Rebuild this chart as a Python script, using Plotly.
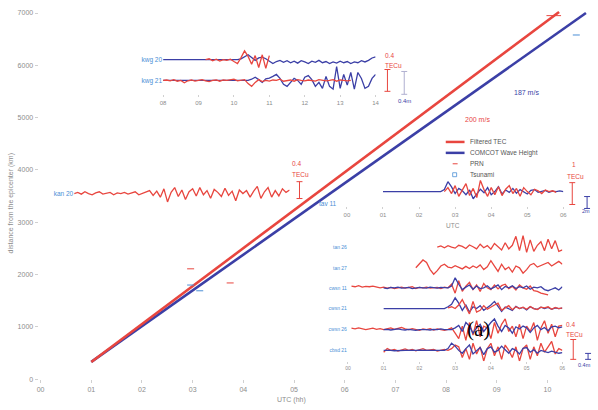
import plotly.graph_objects as go

W, H = 598, 410
RED = "#e8463f"
BLUE = "#3b3fa6"
LBLUE = "#4b8fd6"
GRAY = "#8c8c8c"
DT = 0.1

# ---------------- main panel data ----------------
HOUR_TICKS = [0, 1, 2, 3, 4, 5, 6, 7, 8, 9, 10]
HOUR_LABELS = ["00", "01", "02", "03", "04", "05", "06", "07", "08", "09", "10"]
KM_TICKS = [0, 1000, 2000, 3000, 4000, 5000, 6000, 7000]
KM_LABELS = ["0", "1000", "2000", "3000", "4000", "5000", "6000", "7000"]
TEC_FRONT_HOURS = [1.0, 10.23]
TEC_FRONT_KM = [330, 7020]
WAVE_FRONT_HOURS = [1.0, 10.76]
WAVE_FRONT_KM = [330, 7000]
PRN_MARK_HOURS = [2.96, 3.74, 10.05, 10.2]
PRN_MARK_KM = [2110, 1840, 6950, 6950]
TSU_MARK_HOURS = [2.96, 3.14, 10.57]
TSU_MARK_KM = [1800, 1690, 6580]

# ---------------- inset A : kwg ----------------
KWG_TICKS = [8, 9, 10, 11, 12, 13, 14]
KWG_LABELS = ["08", "09", "10", "11", "12", "13", "14"]
KWG_NAMES = ["kwg 20", "kwg 21"]
KWG_OFFSETS = [0.525, 0.0]
KWG20_WAVE_T0 = 8.0
KWG20_WAVE = [0.0, 0.0, 0.0, 0.0, 0.0, 0.0, 0.0, 0.0, 0.0, 0.0, 0.0, 0.0, 0.0, 0.0, 0.0, 0.0, 0.0, 0.0, 0.0, 0.0, 0.0,
              0.0, 0.02, 0.08, 0.12, 0.05, -0.02, 0.04, 0.06, 0.02, -0.05, -0.1, -0.05, -0.02, -0.07, -0.03, -0.08,
              -0.04, -0.09, -0.03, -0.06, -0.1, -0.04, -0.07, -0.02, -0.08, -0.05, -0.1, -0.06, -0.09, -0.04, -0.08,
              -0.05, -0.1, -0.06, -0.08, -0.03, -0.06, -0.02, 0.04, 0.07]
KWG20_TEC_T0 = 9.2
KWG20_TEC = [0.0, 0.02, -0.03, 0.01, -0.04, 0.0, -0.02, 0.01, -0.05, -0.1, 0.05, 0.22, 0.08, -0.12, 0.1, -0.2,
             0.12, -0.22, 0.1]
KWG21_TEC_T0 = 8.0
KWG21_TEC = [0.0, 0.01, -0.01, 0.02, -0.02, 0.0, -0.06, -0.01, 0.01, -0.02, 0.0, 0.02, -0.01, -0.03, 0.0, 0.01,
             -0.02, 0.01, 0.0, 0.02, 0.03, -0.01, 0.0, 0.02, -0.08, -0.15, -0.05, 0.02, -0.03, 0.0, -0.02, 0.01,
             0.0, 0.03, -0.02, 0.0, 0.01, -0.02, 0.02, 0.0, -0.01, 0.01, 0.0, -0.02, 0.02, 0.01, -0.01, 0.0, 0.02,
             -0.02, 0.01, 0.0, -0.01, 0.0]
KWG21_WAVE_T0 = 8.0
KWG21_WAVE = [0.0, 0.0, 0.0, 0.0, 0.0, 0.0, 0.0, 0.0, 0.0, 0.0, 0.0, 0.0, 0.0, 0.0, 0.0, 0.0, 0.0, 0.0, 0.0, 0.0,
              0.0, 0.0, 0.0, 0.0, 0.0,
              0.03, 0.08, 0.02, -0.05, 0.04, 0.06, 0.1, 0.15, 0.05, -0.1, -0.15, -0.05, 0.05, 0.0, -0.1, 0.08, 0.12,
              0.02, -0.15, -0.05, -0.2, 0.1, -0.15, -0.22, 0.35, -0.2, 0.15, -0.12, 0.2, -0.22, 0.2, 0.05, -0.2,
              -0.15, 0.05, 0.15]

# ---------------- inset B : kan ----------------
KAN_NAME = "kan 20"
KAN_TEC_T0 = 7.0
KAN_TEC = [0.0, 0.02, -0.01, 0.03, 0.0, -0.02, 0.01, 0.03, -0.01, 0.0, 0.02, -0.02, 0.01, 0.0, 0.02, -0.01, 0.01,
           0.03, -0.02, 0.0, 0.02, 0.05, -0.03, 0.04, -0.06, 0.08, -0.14, 0.02, 0.1, -0.05, 0.06, -0.1, 0.03, 0.08,
           -0.04, 0.1, -0.02, 0.05, -0.08, 0.07, 0.02, -0.05, 0.09, -0.03, 0.04, -0.12, 0.06, 0.0, 0.05, -0.06,
           0.04, 0.12, -0.08, 0.03, 0.1, -0.06, 0.05, -0.04, 0.08, 0.02, 0.06]

# ---------------- inset C : tav ----------------
UTC_TICKS = [0, 1, 2, 3, 4, 5, 6]
UTC_LABELS = ["00", "01", "02", "03", "04", "05", "06"]
TAV_NAME = "tav 11"
TAV_WAVE_T0 = 1.0
TAV_WAVE = [0.0, 0.0, 0.0, 0.0, 0.0, 0.0, 0.0, 0.0, 0.0, 0.0, 0.0, 0.0, 0.0, 0.0, 0.0, 0.0, 0.0,
            0.05, 0.25, 0.12, -0.05, 0.08, 0.02, -0.08, 0.04, -0.18, -0.05, 0.06, -0.03, 0.1, -0.08, 0.0, 0.12,
            -0.06, 0.04, -0.02, 0.08, -0.04, 0.05, 0.0, -0.06, 0.03, 0.05, -0.02, 0.0, 0.03, -0.02, 0.01, 0.0,
            0.02, 0.0]
TAV_TEC_T0 = 2.7
TAV_TEC = [0.0, 0.1, -0.05, 0.15, -0.12, 0.05, 0.2, -0.1, 0.08, -0.15, 0.28, 0.05, -0.12, 0.1, -0.08, 0.12, -0.1,
           0.06, 0.15, -0.05, 0.08, -0.12, 0.1, 0.0, -0.08, 0.06, 0.02, -0.05, 0.04, 0.0, 0.02, -0.02]

# ---------------- inset D : six stations ----------------
ROW_NAMES = ["tan 26", "tan 27", "cwsn 11", "cwsn 21", "cwsn 26", "cbsd 21"]
ROW_OFFSETS = [2.89, 2.31, 1.75, 1.17, 0.58, 0.0]
D1_TEC_T0 = 2.5
D1_TEC = [0.0, 0.03, -0.02, 0.04, 0.0, -0.03, 0.05, 0.02, -0.04, 0.06, 0.01, -0.05, 0.08, -0.02, 0.04, -0.06, 0.1,
          0.0, -0.08, 0.12, -0.05, 0.05, 0.3, -0.1, 0.32, -0.15, 0.2, -0.12, 0.05, 0.15, -0.1, 0.22, -0.05, 0.18,
          -0.12, -0.08]
D2_TEC_T0 = 1.9
D2_TEC = [0.0, 0.1, 0.22, 0.15, -0.05, -0.18, -0.08, 0.05, 0.1, 0.02, 0.0, 0.06, 0.02, -0.03, 0.04, -0.02, 0.05,
          0.0, 0.08, -0.05, 0.03, 0.2, 0.05, -0.1, 0.1, -0.05, 0.02, -0.12, 0.05, 0.0, -0.15, -0.05, 0.08, 0.12,
          0.02, 0.06, 0.1, 0.15, 0.05, 0.12, 0.18, 0.1]
D3_TEC_T0 = 0.1
D3_TEC = [0.05, 0.03, 0.06, 0.02, 0.04, 0.03, 0.05, 0.02, 0.0, 0.02, -0.01, 0.01, -0.02, 0.0, 0.02, -0.01, 0.0,
          0.03, -0.02, 0.01, 0.0, 0.02, -0.01, 0.0, 0.01, -0.02, 0.02, 0.0, 0.1, -0.15, 0.2, -0.1, 0.05, 0.15, -0.05,
          0.08, -0.1, 0.12, 0.0, -0.05, 0.08, -0.03, 0.06, 0.1, -0.02, 0.04, -0.06, 0.08, 0.0, -0.04, 0.05, -0.08,
          -0.1, -0.15, -0.18, -0.2]
D3_WAVE_T0 = 1.0
D3_WAVE = [0.0, -0.02, 0.01, 0.0, 0.02, -0.01, 0.0, 0.01, -0.02, 0.0, 0.01, 0.0, -0.01, 0.02, 0.0, -0.01, 0.01, 0.0,
           0.0, 0.05, 0.28, 0.1, -0.05, 0.02, 0.08, -0.04, 0.05, -0.02, 0.0, 0.06, -0.03, 0.02, 0.08, -0.05, 0.04,
           0.0, 0.06, -0.02, 0.03, 0.0, 0.05, -0.04, 0.02, 0.0, 0.03, -0.05, -0.08, -0.04, 0.0, -0.06, 0.03]
D4_WAVE_T0 = 1.0
D4_WAVE = [0.0, 0.0, 0.0, 0.0, 0.0, 0.0, 0.0, 0.0, 0.0, 0.0, 0.0, 0.0, 0.0, 0.0, 0.0, 0.0, 0.0,
           0.0, 0.05, 0.12, 0.3, 0.15, -0.05, 0.1, -0.1, 0.05, 0.0, 0.08, -0.05, 0.02, 0.1, 0.2, 0.05, -0.08, 0.04,
           0.0, -0.05, 0.06, 0.0, 0.03, -0.04, 0.05, 0.0, -0.02, 0.04, 0.0, 0.03, -0.02, 0.02, 0.0, 0.01]
D4_TEC_T0 = 2.8
D4_TEC = [0.02, 0.05, 0.0, 0.1, 0.25, 0.05, -0.15, 0.2, -0.1, -0.05, 0.08, -0.02, 0.05, 0.1, 0.15, -0.05, 0.02,
          0.08, -0.03, 0.05, 0.0, 0.04, -0.02, 0.06, 0.0, -0.03, 0.04, 0.02, 0.05, -0.02, 0.03, 0.0, 0.02]
D5_TEC_T0 = 0.1
D5_TEC = [0.04, 0.02, 0.05, 0.03, 0.0, 0.02, 0.04, 0.01, 0.03, 0.0, 0.02, 0.05, 0.01, 0.03, 0.06, 0.02, 0.0, 0.03,
          0.01, -0.02, 0.02, 0.0, 0.03, -0.01, 0.02, 0.0, -0.02, 0.01, 0.05, -0.1, -0.25, 0.1, -0.3, 0.2, -0.15,
          0.25, -0.2, 0.1, 0.05, -0.25, 0.2, -0.1, 0.15, 0.3, -0.05, 0.1, -0.2, 0.15, -0.25, 0.1, -0.05, 0.2, -0.3,
          0.05, 0.25, -0.1, 0.15, -0.2, 0.1, 0.12]
D5_WAVE_T0 = 1.0
D5_WAVE = [0.0, 0.01, -0.01, 0.0, 0.02, 0.0, -0.01, 0.01, 0.0, -0.02, 0.0, 0.01, 0.0, -0.01, 0.01, 0.0, 0.02, 0.0,
           -0.01, 0.0, 0.05, 0.12, -0.05, 0.2, 0.1, -0.1, 0.05, 0.15, -0.05, 0.08, 0.2, 0.3, 0.1, -0.05, 0.12, 0.05,
           -0.1, 0.08, 0.02, 0.1, 0.05, -0.08, 0.05, 0.12, 0.0, 0.06, -0.03, 0.08, 0.1, 0.05, 0.08]
D6_TEC_T0 = 1.0
D6_TEC = [-0.05, 0.05, 0.0, 0.03, -0.02, 0.02, 0.04, 0.0, 0.03, -0.01, 0.02, 0.05, 0.0, 0.02, 0.03, -0.02, 0.01,
          0.03, 0.0, 0.05, 0.15, 0.1, -0.2, 0.05, -0.25, 0.2, -0.1, 0.1, -0.3, 0.05, 0.2, -0.15, 0.1, -0.25, 0.15,
          0.0, -0.2, 0.1, -0.3, 0.05, 0.15, -0.25, 0.1, -0.15, 0.2, -0.05, 0.1, 0.25, -0.1, 0.05, 0.0]
D6_WAVE_T0 = 1.0
D6_WAVE = [0.0, 0.01, 0.0, -0.01, 0.0, 0.01, 0.0, 0.0, -0.01, 0.0, 0.01, 0.0, -0.01, 0.0, 0.0, 0.01, 0.0, 0.0, 0.05,
           0.2, 0.12, 0.0, -0.08, 0.05, 0.15, -0.1, 0.0, 0.08, -0.12, 0.05, 0.1, -0.05, 0.0, 0.12, 0.02, -0.08, 0.05,
           0.0, -0.1, 0.06, 0.08, -0.05, 0.02, -0.08, 0.0, -0.04, -0.06, -0.02, -0.05, -0.08, -0.06]

LEGEND_LABELS = ["Filtered TEC", "COMCOT Wave Height", "PRN", "Tsunami"]


def fx(p):
    return p / W


def fy(p):
    return 1 - p / H


def series(vals, t0, offset, color, axn, width=1.3):
    return go.Scatter(x0=t0, dx=DT, y=[offset + v for v in vals], mode="lines",
                      line=dict(color=color, width=width), showlegend=False, hoverinfo="skip",
                      xaxis="x" + axn, yaxis="y" + axn)


fig = go.Figure()

# main panel
fig.add_trace(go.Scatter(x=WAVE_FRONT_HOURS, y=WAVE_FRONT_KM, mode="lines",
                         line=dict(color=BLUE, width=2.6), showlegend=False))
fig.add_trace(go.Scatter(x=TEC_FRONT_HOURS, y=TEC_FRONT_KM, mode="lines",
                         line=dict(color=RED, width=2.6), showlegend=False))
fig.add_trace(go.Scatter(x=PRN_MARK_HOURS, y=PRN_MARK_KM, mode="markers",
                         marker=dict(symbol="line-ew", size=5, line=dict(color=RED, width=1)), showlegend=False))
fig.add_trace(go.Scatter(x=TSU_MARK_HOURS, y=TSU_MARK_KM, mode="markers",
                         marker=dict(symbol="line-ew", size=5, line=dict(color=LBLUE, width=1)), showlegend=False))

# inset A
fig.add_trace(series(KWG20_WAVE, KWG20_WAVE_T0, KWG_OFFSETS[0], BLUE, "2"))
fig.add_trace(series(KWG21_WAVE, KWG21_WAVE_T0, KWG_OFFSETS[1], BLUE, "2"))
fig.add_trace(series(KWG20_TEC, KWG20_TEC_T0, KWG_OFFSETS[0], RED, "2"))
fig.add_trace(series(KWG21_TEC, KWG21_TEC_T0, KWG_OFFSETS[1], RED, "2"))
# inset B
fig.add_trace(series(KAN_TEC, KAN_TEC_T0, 0.0, RED, "3"))
# inset C
fig.add_trace(series(TAV_WAVE, TAV_WAVE_T0, 0.0, BLUE, "4"))
fig.add_trace(series(TAV_TEC, TAV_TEC_T0, 0.0, RED, "4"))
# inset D
fig.add_trace(series(D1_TEC, D1_TEC_T0, ROW_OFFSETS[0], RED, "5"))
fig.add_trace(series(D2_TEC, D2_TEC_T0, ROW_OFFSETS[1], RED, "5"))
fig.add_trace(series(D3_TEC, D3_TEC_T0, ROW_OFFSETS[2], RED, "5"))
fig.add_trace(series(D3_WAVE, D3_WAVE_T0, ROW_OFFSETS[2], BLUE, "5"))
fig.add_trace(series(D4_WAVE, D4_WAVE_T0, ROW_OFFSETS[3], BLUE, "5"))
fig.add_trace(series(D4_TEC, D4_TEC_T0, ROW_OFFSETS[3], RED, "5"))
fig.add_trace(series(D5_TEC, D5_TEC_T0, ROW_OFFSETS[4], RED, "5"))
fig.add_trace(series(D5_WAVE, D5_WAVE_T0, ROW_OFFSETS[4], BLUE, "5"))
fig.add_trace(series(D6_TEC, D6_TEC_T0, ROW_OFFSETS[5], RED, "5"))
fig.add_trace(series(D6_WAVE, D6_WAVE_T0, ROW_OFFSETS[5], BLUE, "5"))

tickfont = dict(family="Liberation Sans, Arial, sans-serif", size=7, color=GRAY)
small = dict(family="Liberation Sans, Arial, sans-serif", size=6, color=GRAY)
hidden = dict(showgrid=False, zeroline=False, showline=False)

fig.update_layout(
    width=W, height=H, margin=dict(l=0, r=0, t=0, b=0),
    paper_bgcolor="white", plot_bgcolor="rgba(0,0,0,0)", showlegend=False,
    font=dict(family="Liberation Sans, Arial, sans-serif", color=GRAY),
    xaxis=dict(domain=[fx(36), fx(596)], range=[-0.04, 10.88], tickvals=HOUR_TICKS, ticktext=HOUR_LABELS,
               ticks="outside", ticklen=3, tickcolor="#d0d0d0", tickfont=tickfont, **hidden),
    yaxis=dict(domain=[fy(382), fy(10)], range=[0, 7059], tickvals=KM_TICKS, ticktext=KM_LABELS,
               ticks="outside", ticklen=3, tickcolor="#d0d0d0", tickfont=tickfont, **hidden),
    xaxis2=dict(domain=[fx(162), fx(377)], range=[8, 14], anchor="y2", tickvals=KWG_TICKS, ticktext=KWG_LABELS,
                ticks="outside", ticklen=2, tickcolor="#d0d0d0", tickfont=small, **hidden),
    yaxis2=dict(domain=[fy(95), fy(40)], range=[-0.35, 1.025], anchor="x2", tickvals=KWG_OFFSETS,
                ticktext=KWG_NAMES, ticks="", tickfont=dict(size=6.5, color=LBLUE), **hidden),
    xaxis3=dict(domain=[fx(72), fx(290)], range=[7, 13], anchor="y3", showticklabels=False, ticks="", **hidden),
    yaxis3=dict(domain=[fy(220), fy(165)], range=[-0.417, 0.5], anchor="x3", tickvals=[0.0],
                ticktext=[KAN_NAME], ticks="", tickfont=dict(size=6.5, color=LBLUE), **hidden),
    xaxis4=dict(domain=[fx(348), fx(567)], range=[0, 6], anchor="y4", tickvals=UTC_TICKS, ticktext=UTC_LABELS,
                ticks="outside", ticklen=2, tickcolor="#d0d0d0", tickfont=small, **hidden),
    yaxis4=dict(domain=[fy(208), fy(165)], range=[-0.375, 0.7], anchor="x4", showticklabels=False, ticks="",
                **hidden),
    xaxis5=dict(domain=[fx(349), fx(566)], range=[0, 6], anchor="y5", tickvals=UTC_TICKS, ticktext=UTC_LABELS,
                ticks="outside", ticklen=2, tickcolor="#d0d0d0",
                tickfont=dict(size=5, color=GRAY), **hidden),
    yaxis5=dict(domain=[fy(364), fy(228)], range=[-0.306, 3.47], anchor="x5", tickvals=ROW_OFFSETS,
                ticktext=ROW_NAMES, ticks="", tickfont=dict(size=5, color=LBLUE), **hidden),
)

ann = []


def text(x, y, s, color=GRAY, size=7, xanchor="center", angle=0, family=None):
    d = dict(x=fx(x), y=fy(y), xref="paper", yref="paper", text=s, showarrow=False, xanchor=xanchor,
             yanchor="middle", textangle=angle, font=dict(size=size, color=color))
    if family:
        d["font"]["family"] = family
    ann.append(d)


text(8, 205, "distance from the epicenter (km)", size=7, angle=-90)
text(292, 403, "UTC (hh)", size=7)
text(455, 227, "UTC", size=6.5)
text(340, 205, TAV_NAME, color=LBLUE, size=6.5, xanchor="right")
text(480, 120, "200 m/s", color=RED, size=7)
text(530, 93, "187 m/s", color=BLUE, size=7)
text(481, 331, "(a)", color="black", size=21, family="Liberation Serif, DejaVu Serif, serif")
# scale bar labels
text(384, 56, "0.4", color=RED, size=6.5, xanchor="left")
text(384, 66, "TECu", color=RED, size=6.5, xanchor="left")
text(398, 102, "0.4m", color=BLUE, size=6, xanchor="left")
text(290, 165, "0.4", color=RED, size=6.5, xanchor="left")
text(290, 176, "TECu", color=RED, size=6.5, xanchor="left")
text(574, 166, "1", color=RED, size=6.5, xanchor="left")
text(569, 178, "TECu", color=RED, size=6.5, xanchor="left")
text(584, 213, "2m", color=BLUE, size=5.5, xanchor="left")
text(568, 327, "0.4", color=RED, size=6.5, xanchor="left")
text(568, 337, "TECu", color=RED, size=6.5, xanchor="left")
text(597, 368, "0.4m", color=BLUE, size=5.5, xanchor="right")
# legend texts
LEG_Y = [143, 154, 165, 176]
for lab, yy in zip(LEGEND_LABELS, LEG_Y):
    text(471, yy, lab, color="#555555", size=6.5, xanchor="left")
fig.update_layout(annotations=ann)

shapes = []


def seg(x0, y0, x1, y1, color, width=1):
    shapes.append(dict(type="line", xref="paper", yref="paper", x0=fx(x0), y0=fy(y0), x1=fx(x1), y1=fy(y1),
                       line=dict(color=color, width=width)))


# legend swatches
seg(448, 143, 467, 143, RED, 2.5)
seg(448, 154, 467, 154, BLUE, 2.5)
seg(455, 165, 460, 165, RED, 1)
shapes.append(dict(type="rect", xref="paper", yref="paper", x0=fx(455), x1=fx(459), y0=fy(178), y1=fy(174),
                   line=dict(color=LBLUE, width=0.8)))
# scale bars
for (x, y0, y1, c) in [(389, 70, 92, RED), (406, 72, 95, "#b0b0d0"), (300, 183, 200, RED),
                       (576, 184, 206, RED), (591, 198, 210, BLUE), (577, 342, 362, RED), (592, 356, 362, BLUE)]:
    seg(x, y0, x, y1, c, 1)
    seg(x - 3, y1, x + 3, y1, c, 1)
    seg(x - 3, y0, x + 3, y0, c, 1)
fig.update_layout(shapes=shapes)

fig.write_html("out.html", config={"displayModeBar": False},
               post_script="document.body.style.margin='0';document.body.style.overflow='hidden';")
